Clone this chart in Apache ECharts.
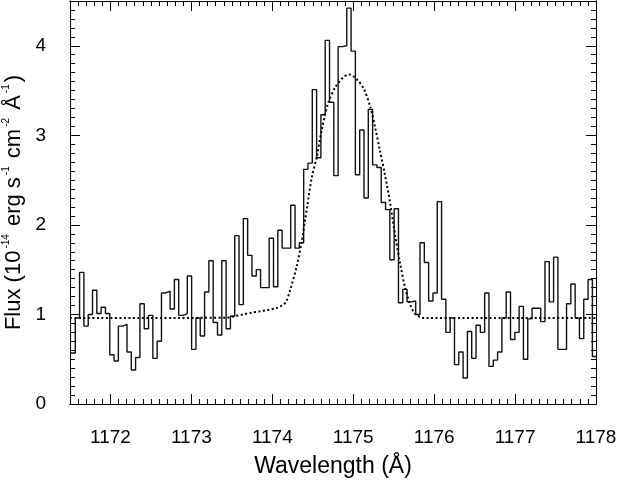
<!DOCTYPE html>
<html>
<head>
<meta charset="utf-8">
<script src="https://cdn.jsdelivr.net/npm/echarts@6/dist/echarts.min.js"></script>
<style>
  html, body { margin: 0; padding: 0; background: #fff; }
  #chart { width: 622px; height: 486px; }
</style>
</head>
<body>
<div id="chart"></div>
<script>
// observed spectrum: bins of equal width starting at waveStart
var waveStart = 1171.512
var binWidth = 0.05325
var flux = [
  0.57, 0.96, 1.47, 0.87, 1.00, 1.27, 1.01, 1.08, 1.01, 0.55,
  0.48, 0.87, 0.89, 0.58, 0.38, 0.52, 1.12, 0.84, 0.99, 0.51,
  0.70, 1.24, 1.26, 1.06, 1.39, 0.99, 1.01, 1.43, 0.61, 0.96,
  0.76, 1.25, 1.60, 0.91, 0.77, 1.60, 0.84, 0.98, 1.88, 1.11,
  2.07, 1.66, 1.43, 1.50, 1.30, 1.30, 1.85, 1.31, 1.94, 1.74,
  1.74, 2.22, 1.74, 1.80, 2.62, 2.69, 3.51, 2.75, 3.23, 4.06,
  3.37, 2.55, 3.99, 4.00, 4.42, 3.94, 2.56, 3.06, 2.30, 3.29,
  2.67, 2.64, 2.25, 2.17, 1.61, 2.18, 1.13, 1.28, 1.14, 1.15,
  1.00, 1.80, 1.58, 1.15, 1.24, 2.26, 1.17, 0.80, 0.96, 0.44,
  0.58, 0.29, 0.81, 0.51, 0.88, 0.80, 1.24, 0.42, 0.49, 0.58,
  0.96, 1.25, 0.72, 0.80, 1.09, 0.50, 0.95, 1.07, 1.07, 0.92,
  1.59, 1.14, 1.64, 0.61, 0.61, 1.12, 1.34, 0.96, 0.73, 1.17,
  1.39, 0.53
]

// fitted profile (dotted curve)
var modelWave = [
  1171.50, 1173.43, 1173.53, 1173.64, 1173.74, 1173.84, 1173.94, 1174.05,
  1174.13, 1174.17, 1174.22, 1174.30, 1174.36, 1174.43, 1174.49, 1174.55,
  1174.61, 1174.69, 1174.78, 1174.88, 1174.95, 1175.04, 1175.13, 1175.21,
  1175.27, 1175.33, 1175.39, 1175.46, 1175.52, 1175.58, 1175.64, 1175.70,
  1175.76, 1175.83, 1175.89, 1178.00
]
var modelFlux = [
  0.96, 0.963, 0.98, 1.00, 1.02, 1.034, 1.05, 1.07,
  1.105, 1.14, 1.27, 1.53, 1.80, 2.20, 2.54, 2.76,
  3.06, 3.36, 3.54, 3.65, 3.68, 3.63, 3.52, 3.32,
  3.09, 2.83, 2.57, 2.22, 1.87, 1.57, 1.30, 1.12,
  1.01, 0.97, 0.96, 0.96
]

var xTicks = [1172, 1173, 1174, 1175, 1176, 1177, 1178]
var yTicks = [0, 1, 2, 3, 4]
var xRange = [1171.5, 1178]
var yRange = [0, 4.5]

var font = 'Liberation Sans, Arial, Helvetica, sans-serif'

var specData = []
for (var i = 0; i < flux.length; i++) {
  specData.push([waveStart + i * binWidth, flux[i]])
}
specData.push([waveStart + flux.length * binWidth, flux[flux.length - 1]])

var modelData = []
for (var j = 0; j < modelWave.length; j++) {
  modelData.push([modelWave[j], modelFlux[j]])
}

// minor ticks every 0.1, skipping the labelled ones
function minorTicks (lo, hi) {
  var out = []
  for (var v = Math.round(lo * 10); v <= Math.round(hi * 10); v++) {
    if (v % 10 !== 0) out.push(v / 10)
  }
  return out
}
var xMinor = minorTicks(xRange[0], xRange[1])
var yMinor = minorTicks(yRange[0], yRange[1])

function frameAxis (pos, range, ticks, len) {
  return {
    type: 'value',
    position: pos,
    min: range[0],
    max: range[1],
    axisLine: { show: true, onZero: false, lineStyle: { color: '#000', width: 1 } },
    axisTick: { show: true, inside: true, length: len, customValues: ticks, lineStyle: { color: '#000', width: 1 } },
    axisLabel: { show: false },
    splitLine: { show: false }
  }
}

var bottomAxis = frameAxis('bottom', xRange, xTicks, 10)
bottomAxis.axisLabel = {
  show: true,
  customValues: xTicks,
  margin: 24,
  color: '#000',
  fontSize: 19,
  fontFamily: font,
  formatter: function (v) { return String(v) }
}
bottomAxis.name = 'Wavelength (Å)'
bottomAxis.nameLocation = 'middle'
bottomAxis.nameGap = 51
bottomAxis.nameTextStyle = { color: '#000', fontSize: 23, fontFamily: font }

var leftAxis = frameAxis('left', yRange, yTicks, 10)
leftAxis.axisLabel = { show: true, customValues: yTicks, margin: 24, color: '#000', fontSize: 19, fontFamily: font }
leftAxis.name = '{n|Flux (10}{s|-14}{n| erg s}{s|-1}{n| cm}{s|-2}{n| Å}{s|-1}{n|)}'
leftAxis.nameLocation = 'middle'
leftAxis.nameGap = 42
leftAxis.nameTextStyle = {
  color: '#000',
  fontFamily: font,
  rich: {
    n: { fontSize: 22, fontFamily: font, color: '#000', lineHeight: 25 },
    s: { fontSize: 10, fontFamily: font, color: '#000', verticalAlign: 'top', lineHeight: 25, padding: [0, 2, 10, 2] }
  }
}

var chart = echarts.init(document.getElementById('chart'))
chart.setOption({
  animation: false,
  backgroundColor: '#fff',
  grid: { left: 70, right: 26, top: 1, bottom: 82, containLabel: false, outerBoundsMode: 'none' },
  xAxis: [
    bottomAxis,
    frameAxis('bottom', xRange, xMinor, 5),
    frameAxis('top', xRange, xTicks, 10),
    frameAxis('top', xRange, xMinor, 5)
  ],
  yAxis: [
    leftAxis,
    frameAxis('left', yRange, yMinor, 5),
    frameAxis('right', yRange, yTicks, 10),
    frameAxis('right', yRange, yMinor, 5)
  ],
  series: [
    {
      name: 'spectrum',
      type: 'line',
      step: 'end',
      data: specData,
      xAxisIndex: 0,
      yAxisIndex: 0,
      showSymbol: false,
      clip: true,
      lineStyle: { color: '#111', width: 1.4 }
    },
    {
      name: 'fit',
      type: 'line',
      data: modelData,
      xAxisIndex: 0,
      yAxisIndex: 0,
      smooth: 0.3,
      showSymbol: false,
      clip: true,
      lineStyle: { color: '#000', width: 2, type: [2, 2.5] }
    }
  ]
})
</script>
</body>
</html>
